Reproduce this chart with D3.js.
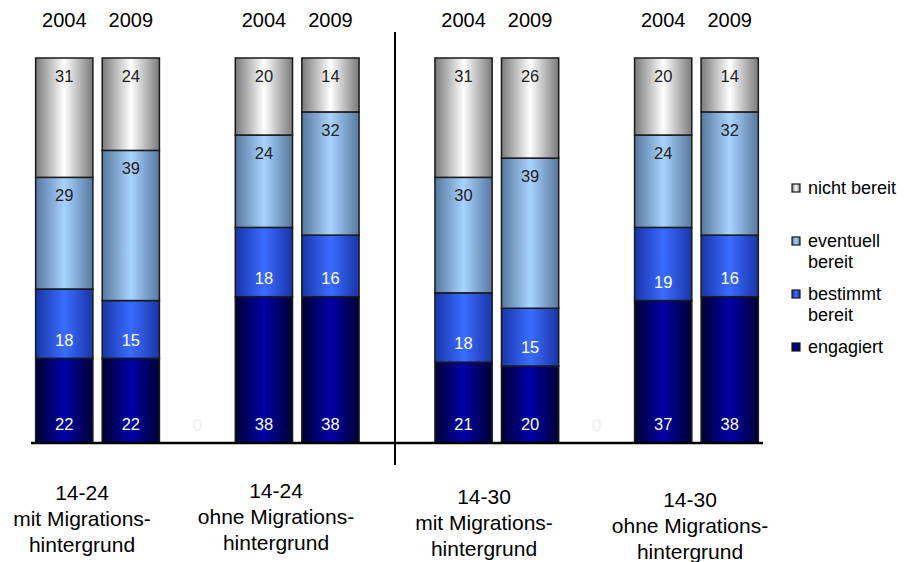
<!DOCTYPE html>
<html>
<head>
<meta charset="utf-8">
<script src="https://cdn.jsdelivr.net/npm/d3@7"></script>
<style>
  html, body { margin: 0; padding: 0; background: #fff; }
  svg { display: block; font-family: "Liberation Sans", Arial, sans-serif; }
</style>
</head>
<body>
<svg id="chart" width="911" height="562"></svg>
<script>
// Slots along the x axis; null marks an empty spacer slot
const slots = ["g1-2004", "g1-2009", null, "g2-2004", "g2-2009", null,
               "g3-2004", "g3-2009", null, "g4-2004", "g4-2009"];
const years = ["2004", "2009", "", "2004", "2009", "", "2004", "2009", "", "2004", "2009"];

// Series values per bar (percent), bottom to top
const engagiert    = [22, 22, 0, 38, 38, 0, 21, 20, 0, 37, 38];
const bestimmt     = [18, 15, 0, 18, 16, 0, 18, 15, 0, 19, 16];
const eventuell    = [29, 39, 0, 24, 32, 0, 30, 39, 0, 24, 32];
const nichtBereit  = [31, 24, 0, 20, 14, 0, 31, 26, 0, 20, 14];

const groupLabels = [
  ["14-24", "mit Migrations-", "hintergrund"],
  ["14-24", "ohne Migrations-", "hintergrund"],
  ["14-30", "mit Migrations-", "hintergrund"],
  ["14-30", "ohne Migrations-", "hintergrund"]
];

const svg = d3.select("#chart");
const defs = svg.append("defs");

// Cylinder-like shading for each series
const shades = [
  { id: "g-eng", edge: "#000033", mid: "#0000a8" },
  { id: "g-bes", edge: "#1835a8", mid: "#3a6cff" },
  { id: "g-eve", edge: "#56789e", mid: "#a9d3ff" },
  { id: "g-nic", edge: "#7a7a7a", mid: "#ffffff" }
];
shades.forEach(s => {
  const lg = defs.append("linearGradient").attr("id", s.id)
    .attr("x1", "0%").attr("x2", "100%").attr("y1", "0%").attr("y2", "0%");
  lg.append("stop").attr("offset", "0%").attr("stop-color", s.edge);
  lg.append("stop").attr("offset", "50%").attr("stop-color", s.mid);
  lg.append("stop").attr("offset", "100%").attr("stop-color", s.edge);
});
const labelColors = ["#ffffff", "#ffffff", "#222222", "#222222"];

const x = d3.scaleBand()
  .domain(d3.range(slots.length))
  .range([31, 763])
  .paddingInner(0.14)
  .paddingOuter(0.07);

const y = d3.scaleLinear().domain([0, 100]).range([443, 58]);

const table = slots.map((s, i) => ({
  i, engagiert: engagiert[i], bestimmt: bestimmt[i],
  eventuell: eventuell[i], nicht: nichtBereit[i]
}));
const keys = ["engagiert", "bestimmt", "eventuell", "nicht"];
const stacked = d3.stack().keys(keys)(table);

const barSlots = d => slots[d.data.i] !== null;

stacked.forEach((layer, li) => {
  const g = svg.append("g");
  g.selectAll("rect")
    .data(layer.filter(barSlots))
    .join("rect")
    .attr("x", d => x(d.data.i))
    .attr("width", x.bandwidth())
    .attr("y", d => y(d[1]))
    .attr("height", d => y(d[0]) - y(d[1]))
    .attr("fill", `url(#${shades[li].id})`)
    .attr("stroke", "#1a1a1a")
    .attr("stroke-width", 1.5);

  // Value labels: lower two series near the segment base, upper two near the top
  g.selectAll("text")
    .data(layer.filter(barSlots))
    .join("text")
    .attr("x", d => x(d.data.i) + x.bandwidth() / 2)
    .attr("y", d => li < 2 ? y(d[0]) - 18.5 : y(d[1]) + 18)
    .attr("dy", "0.35em")
    .attr("text-anchor", "middle")
    .attr("font-size", 16.5)
    .attr("fill", labelColors[li])
    .text(d => d[1] - d[0]);
});

// Zero labels in the spacer slots
svg.append("g").selectAll("text")
  .data(table.filter(d => slots[d.i] === null && d.i !== 5))
  .join("text")
  .attr("x", d => x(d.i) + x.bandwidth() / 2)
  .attr("y", 425)
  .attr("dy", "0.35em")
  .attr("text-anchor", "middle")
  .attr("font-size", 16.5)
  .attr("fill", "#f0f0f0")
  .text(d => d.engagiert);

// Year labels above the bars
svg.append("g").selectAll("text")
  .data(years.map((t, i) => ({ t, i })).filter(d => d.t))
  .join("text")
  .attr("x", d => x(d.i) + x.bandwidth() / 2)
  .attr("y", 19.5)
  .attr("dy", "0.35em")
  .attr("text-anchor", "middle")
  .attr("font-size", 20)
  .attr("fill", "#000")
  .text(d => d.t);

// Baseline
svg.append("line")
  .attr("x1", 31).attr("x2", 763)
  .attr("y1", y(0)).attr("y2", y(0))
  .attr("stroke", "#000").attr("stroke-width", 2.5);

// Divider between the 14-24 and 14-30 groups
svg.append("line")
  .attr("x1", 395).attr("x2", 395)
  .attr("y1", 32).attr("y2", 465)
  .attr("stroke", "#000").attr("stroke-width", 2);

// Group labels below the axis
const groupPos = [
  { cx: 82, cy: 493 },
  { cx: 276, cy: 491 },
  { cx: 484, cy: 497 },
  { cx: 690, cy: 500 }
];
groupLabels.forEach((lines, gi) => {
  const t = svg.append("text")
    .attr("text-anchor", "middle")
    .attr("font-size", 21)
    .attr("fill", "#000");
  lines.forEach((ln, k) => {
    t.append("tspan")
      .attr("x", groupPos[gi].cx)
      .attr("y", groupPos[gi].cy + k * 26)
      .attr("dy", "0.35em")
      .text(ln);
  });
});

// Legend
const legendItems = [
  { lines: ["nicht bereit"], si: 3, y: 188 },
  { lines: ["eventuell", "bereit"], si: 2, y: 241 },
  { lines: ["bestimmt", "bereit"], si: 1, y: 294 },
  { lines: ["engagiert"], si: 0, y: 347 }
];
const legend = svg.append("g");
legendItems.forEach(it => {
  legend.append("rect")
    .attr("x", 792).attr("y", it.y - 4)
    .attr("width", 8).attr("height", 8)
    .attr("fill", `url(#${shades[it.si].id})`)
    .attr("stroke", "#1a1a1a").attr("stroke-width", 1.2);
  const t = legend.append("text").attr("font-size", 18).attr("fill", "#000");
  it.lines.forEach((ln, k) => {
    t.append("tspan")
      .attr("x", 808)
      .attr("y", it.y + k * 21)
      .attr("dy", "0.35em")
      .text(ln);
  });
});
</script>
</body>
</html>
